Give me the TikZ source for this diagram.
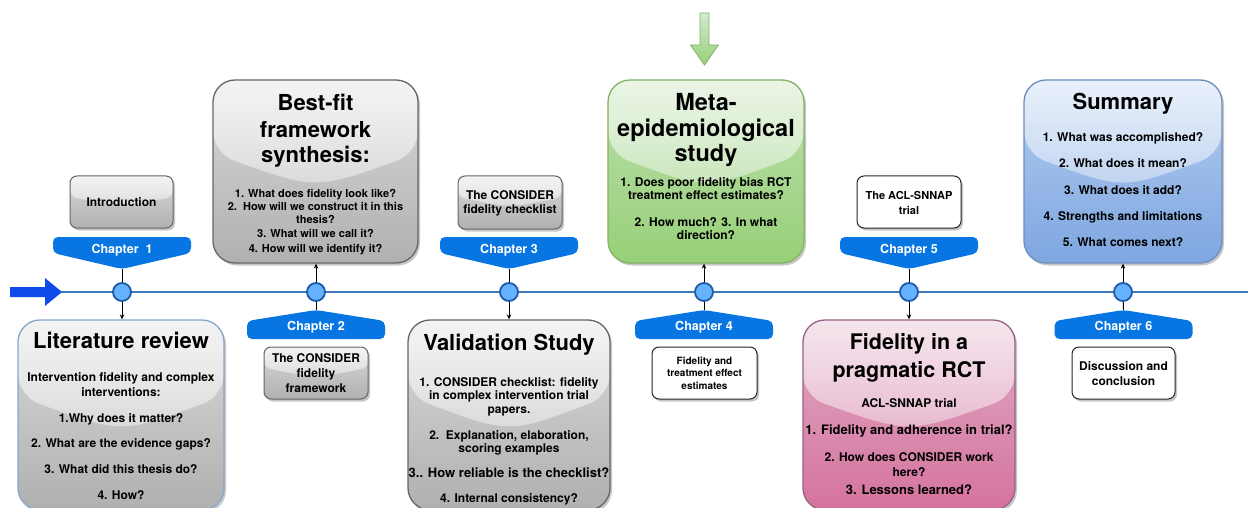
\documentclass[tikz,border=0pt]{standalone}
\usepackage{fontspec}
\setmainfont{TeX Gyre Heros}
\usetikzlibrary{arrows.meta,shadows,fadings,calc}

\definecolor{tlblue}{RGB}{64,120,190}
\definecolor{dotfill}{HTML}{66B2FF}
\definecolor{dotdraw}{HTML}{1A5CA8}
\definecolor{tagc}{RGB}{8,118,226}
\definecolor{arrowblue}{HTML}{0F4BE8}
\definecolor{grayA}{HTML}{F5F5F5}
\definecolor{grayB}{HTML}{B0B0B0}
\definecolor{grayS}{HTML}{666666}
\definecolor{greenA}{HTML}{D5E8D4}
\definecolor{greenB}{HTML}{97D077}
\definecolor{greenS}{HTML}{82B366}
\definecolor{pinkA}{HTML}{E6D0DE}
\definecolor{pinkB}{HTML}{D5739D}
\definecolor{pinkS}{HTML}{996185}
\definecolor{blueA}{HTML}{DAE8FC}
\definecolor{blueB}{HTML}{7EA6E0}
\definecolor{blueS}{HTML}{6C8EBF}

\tikzfading[name=glassfade, top color=transparent!30, bottom color=transparent!82]
\newcommand\fs[1]{\fontsize{#1}{#1}\selectfont\bfseries}

\tikzset{
  tl/.style={draw=tlblue, line width=2pt},
  dot/.style={circle, minimum size=18pt, inner sep=0pt, fill=dotfill, draw=dotdraw, line width=1.8pt},
  conn/.style={draw=black, line width=0.9pt},
  arr/.style={-{Stealth[length=5pt,width=4.5pt]}},
  tagtxt/.style={anchor=base, inner sep=0pt, text=white, font=\fs{12.5}},
  txt/.style={anchor=base, inner sep=0pt, font=\fs{12}},
  ttl/.style={anchor=base, inner sep=0pt, font=\fs{22}},
  sh/.style={drop shadow={shadow xshift=2pt, shadow yshift=-2.5pt, opacity=0.22, fill=black}},
  glass/.style={path picture={
    \fill[white, path fading=glassfade]
      (path picture bounding box.north west) -- (path picture bounding box.north east)
      -- ($(path picture bounding box.north east)!0.4!(path picture bounding box.south east)$)
      .. controls ($(path picture bounding box.north)!0.6!(path picture bounding box.south)$)
      .. ($(path picture bounding box.north west)!0.4!(path picture bounding box.south west)$)
      -- cycle;}},
  bigbox/.style={rectangle, rounded corners=22pt, line width=1.3pt, inner sep=0pt, sh, glass},
  smallbox/.style={rectangle, rounded corners=7pt, line width=1pt, inner sep=0pt, sh},
  boxfill/.style n args={3}{top color=#2!40!#1, bottom color=#2, draw=#3},
  grayfill/.style={boxfill={grayA}{grayB}{grayS}},
  greenfill/.style={boxfill={greenA}{greenB}{greenS}},
  pinkfill/.style={boxfill={pinkA}{pinkB}{pinkS}},
  bluefill/.style={boxfill={blueA}{blueB}{blueS}},
  whitefill/.style={fill=white, draw=black!85},
}

\begin{document}
\begin{tikzpicture}[x=1pt,y=-1pt]
\useasboundingbox (0,0) rectangle (1248,508);
\fill[white] (0,0) rectangle (1248,508);

% timeline
\fill[arrowblue] (10,287) -- (45,287) -- (45,278) -- (62,292) -- (45,306) -- (45,297) -- (10,297) -- cycle;
\coordinate (atip) at (61,292);
\coordinate (tlend) at (1250,292);
\draw[tl] (atip) -- (tlend);

% green arrow
\shade[top color=greenA, bottom color=greenB, draw=greenS, line width=0.8pt]
  (700,13) -- (709,13) -- (709,45) -- (718.5,45) -- (704.5,65) -- (690.5,45) -- (700,45) -- cycle;

% circles
\node[dot] (c1) at (122,292) {};
\node[dot] (c2) at (316,292) {};
\node[dot] (c3) at (509,292) {};
\node[dot] (c4) at (704,292) {};
\node[dot] (c5) at (909,292) {};
\node[dot] (c6) at (1123,292) {};

% chapter tags above
\foreach \n/\x in {1/122,3/509,5/909}{
  \fill[tagc, rounded corners=5pt] (\x-69,237) -- (\x+69,237) -- (\x+69,253) -- (\x,269) -- (\x-69,253) -- cycle;
  \coordinate (a\n) at (\x,269);
}
% chapter tags below
\foreach \n/\x in {2/316,4/704,6/1123.5}{
  \fill[tagc, rounded corners=5pt] (\x-69,339) -- (\x+69,339) -- (\x+69,321) -- (\x,310) -- (\x-69,321) -- cycle;
  \coordinate (a\n) at (\x,310);
}
\node[tagtxt] (t1) at (122,253.5) {Chapter\ \ 1};
\node[tagtxt] (t3) at (509,253.5) {Chapter 3};
\node[tagtxt] (t5) at (909,253.5) {Chapter 5};
\node[tagtxt] (t2) at (316,330.5) {Chapter 2};
\node[tagtxt] (t4) at (704,330.5) {Chapter 4};
\node[tagtxt] (t6) at (1123.5,330.5) {Chapter 6};

% big boxes
\node[bigbox, grayfill, draw=blueS!80, minimum width=206pt, minimum height=190pt] (lit) at (121,415) {};
\node[bigbox, grayfill, minimum width=205pt, minimum height=183pt] (bestfit) at (315.5,171.5) {};
\node[bigbox, grayfill, minimum width=202pt, minimum height=190pt] (valid) at (509,415) {};
\node[bigbox, greenfill, minimum width=196pt, minimum height=183pt] (meta) at (706,171.5) {};
\node[bigbox, pinkfill, minimum width=212pt, minimum height=190pt] (prag) at (909,415) {};
\node[bigbox, bluefill, minimum width=198pt, minimum height=183pt] (summ) at (1123,171.5) {};

% small boxes
\node[smallbox, grayfill, glass, minimum width=103pt, minimum height=52pt] (intro) at (121.5,202) {};
\node[smallbox, grayfill, glass, minimum width=104pt, minimum height=52pt] (frame) at (316,373) {};
\node[smallbox, grayfill, glass, minimum width=104pt, minimum height=53pt] (check) at (510,202.5) {};
\node[smallbox, whitefill, minimum width=105pt, minimum height=52pt] (fte) at (704.5,373) {};
\node[smallbox, whitefill, minimum width=104pt, minimum height=52pt] (acl) at (909,202) {};
\node[smallbox, whitefill, minimum width=103pt, minimum height=52pt] (disc) at (1123.5,373) {};

% connectors
\draw[conn] (a1) -- (c1);
\draw[conn, arr] (c1) -- (c1 |- lit.north);
\draw[conn] (c2) -- (a2);
\draw[conn, arr] (c2) -- (c2 |- bestfit.south);
\draw[conn] (a3) -- (c3);
\draw[conn, arr] (c3) -- (c3 |- valid.north);
\draw[conn] (c4) -- (a4);
\draw[conn, arr] (c4) -- (c4 |- meta.south);
\draw[conn] (a5) -- (c5);
\draw[conn, arr] (c5) -- (c5 |- prag.north);
\draw[conn] (c6) -- (a6);
\draw[conn, arr] (c6) -- (c6 |- summ.south);

% Literature review
\node[ttl] (litT) at (121,348) {Literature review};
\node[txt] (litA) at (121,381.3) {Intervention fidelity and complex};
\node[txt] (litB) at (121,396.3) {interventions:};
\node[txt] (lit1) at (121,422.3) {1.Why does it matter?};
\node[txt] (lit2) at (121,447.3) {2. What are the evidence gaps?};
\node[txt] (lit3) at (121,473.3) {3. What did this thesis do?};
\node[txt] (lit4) at (121,499.3) {4. How?};

% Best-fit
\node[ttl] (bfT1) at (315.5,111) {Best-fit};
\node[ttl] (bfT2) at (315.5,138) {framework};
\node[ttl] (bfT3) at (315.5,163) {synthesis:};
\node[txt, font=\fs{11}] (bf1) at (315.5,197) {1. What does fidelity look like?};
\node[txt, font=\fs{11}] (bf2) at (315.5,210.5) {2.\ \ How will we construct it in this};
\node[txt, font=\fs{11}] (bf3) at (315.5,223.5) {thesis?};
\node[txt, font=\fs{11}] (bf4) at (315.5,237) {3. What will we call it?};
\node[txt, font=\fs{11}] (bf5) at (315.5,252) {4. How will we identify it?};

% Validation
\node[ttl] (vaT) at (509,350) {Validation Study};
\node[txt] (va1) at (509,386.3) {1. CONSIDER checklist: fidelity};
\node[txt] (va2) at (509,399.8) {in complex intervention trial};
\node[txt] (va3) at (509,413) {papers.};
\node[txt] (va4) at (509,439.3) {2.\ \ Explanation, elaboration,};
\node[txt] (va5) at (509,452.8) {scoring examples};
\node[txt, font=\fs{13}] (va6) at (509,477.7) {3.. How reliable is the checklist?};
\node[txt] (va7) at (509,502.3) {4. Internal consistency?};

% Meta
\node[ttl, font=\fs{23.5}] (mT1) at (706,110.6) {Meta-};
\node[ttl, font=\fs{23.5}] (mT2) at (706,136.6) {epidemiological};
\node[ttl, font=\fs{23.5}] (mT3) at (706,161.6) {study};
\node[txt] (m1) at (706,186.3) {1. Does poor fidelity bias RCT};
\node[txt] (m2) at (706,199.3) {treatment effect estimates?};
\node[txt] (m3) at (706,226.3) {2. How much? 3. In what};
\node[txt] (m4) at (706,239.3) {direction?};

% Pragmatic
\node[ttl, font=\fs{21.5}] (pT1) at (909,349.7) {Fidelity in a};
\node[ttl, font=\fs{21.5}] (pT2) at (909,377.7) {pragmatic RCT};
\node[txt] (p1) at (909,407.3) {ACL-SNNAP trial};
\node[txt, font=\fs{13}] (p2) at (909,434.7) {1. Fidelity and adherence in trial?};
\node[txt] (p3) at (909,461.3) {2. How does CONSIDER work};
\node[txt] (p4) at (909,476.3) {here?};
\node[txt, font=\fs{13}] (p5) at (909,494.7) {3. Lessons learned?};

% Summary
\node[ttl] (sT) at (1123,110) {Summary};
\node[txt] (s1) at (1123,141.3) {1. What was accomplished?};
\node[txt] (s2) at (1123,167.3) {2. What does it mean?};
\node[txt] (s3) at (1123,194.3) {3. What does it add?};
\node[txt] (s4) at (1123,220.3) {4. Strengths and limitations};
\node[txt] (s5) at (1123,246.3) {5. What comes next?};

% small box texts
\node[txt] (introT) at (121.5,206.3) {Introduction};
\node[txt] (fr1) at (316,362.3) {The CONSIDER};
\node[txt] (fr2) at (316,377.3) {fidelity};
\node[txt] (fr3) at (316,392.3) {framework};
\node[txt] (ck1) at (510,199.3) {The CONSIDER};
\node[txt] (ck2) at (510,213.3) {fidelity checklist};
\node[txt, font=\fs{10}] (fe1) at (704.5,364.6) {Fidelity and};
\node[txt, font=\fs{10}] (fe2) at (704.5,376.6) {treatment effect};
\node[txt, font=\fs{10}] (fe3) at (704.5,389.6) {estimates};
\node[txt, font=\fs{11}] (ac1) at (909,199) {The ACL-SNNAP};
\node[txt, font=\fs{11}] (ac2) at (909,214) {trial};
\node[txt] (di1) at (1123.5,370.3) {Discussion and};
\node[txt] (di2) at (1123.5,385.3) {conclusion};
\end{tikzpicture}
\end{document}
